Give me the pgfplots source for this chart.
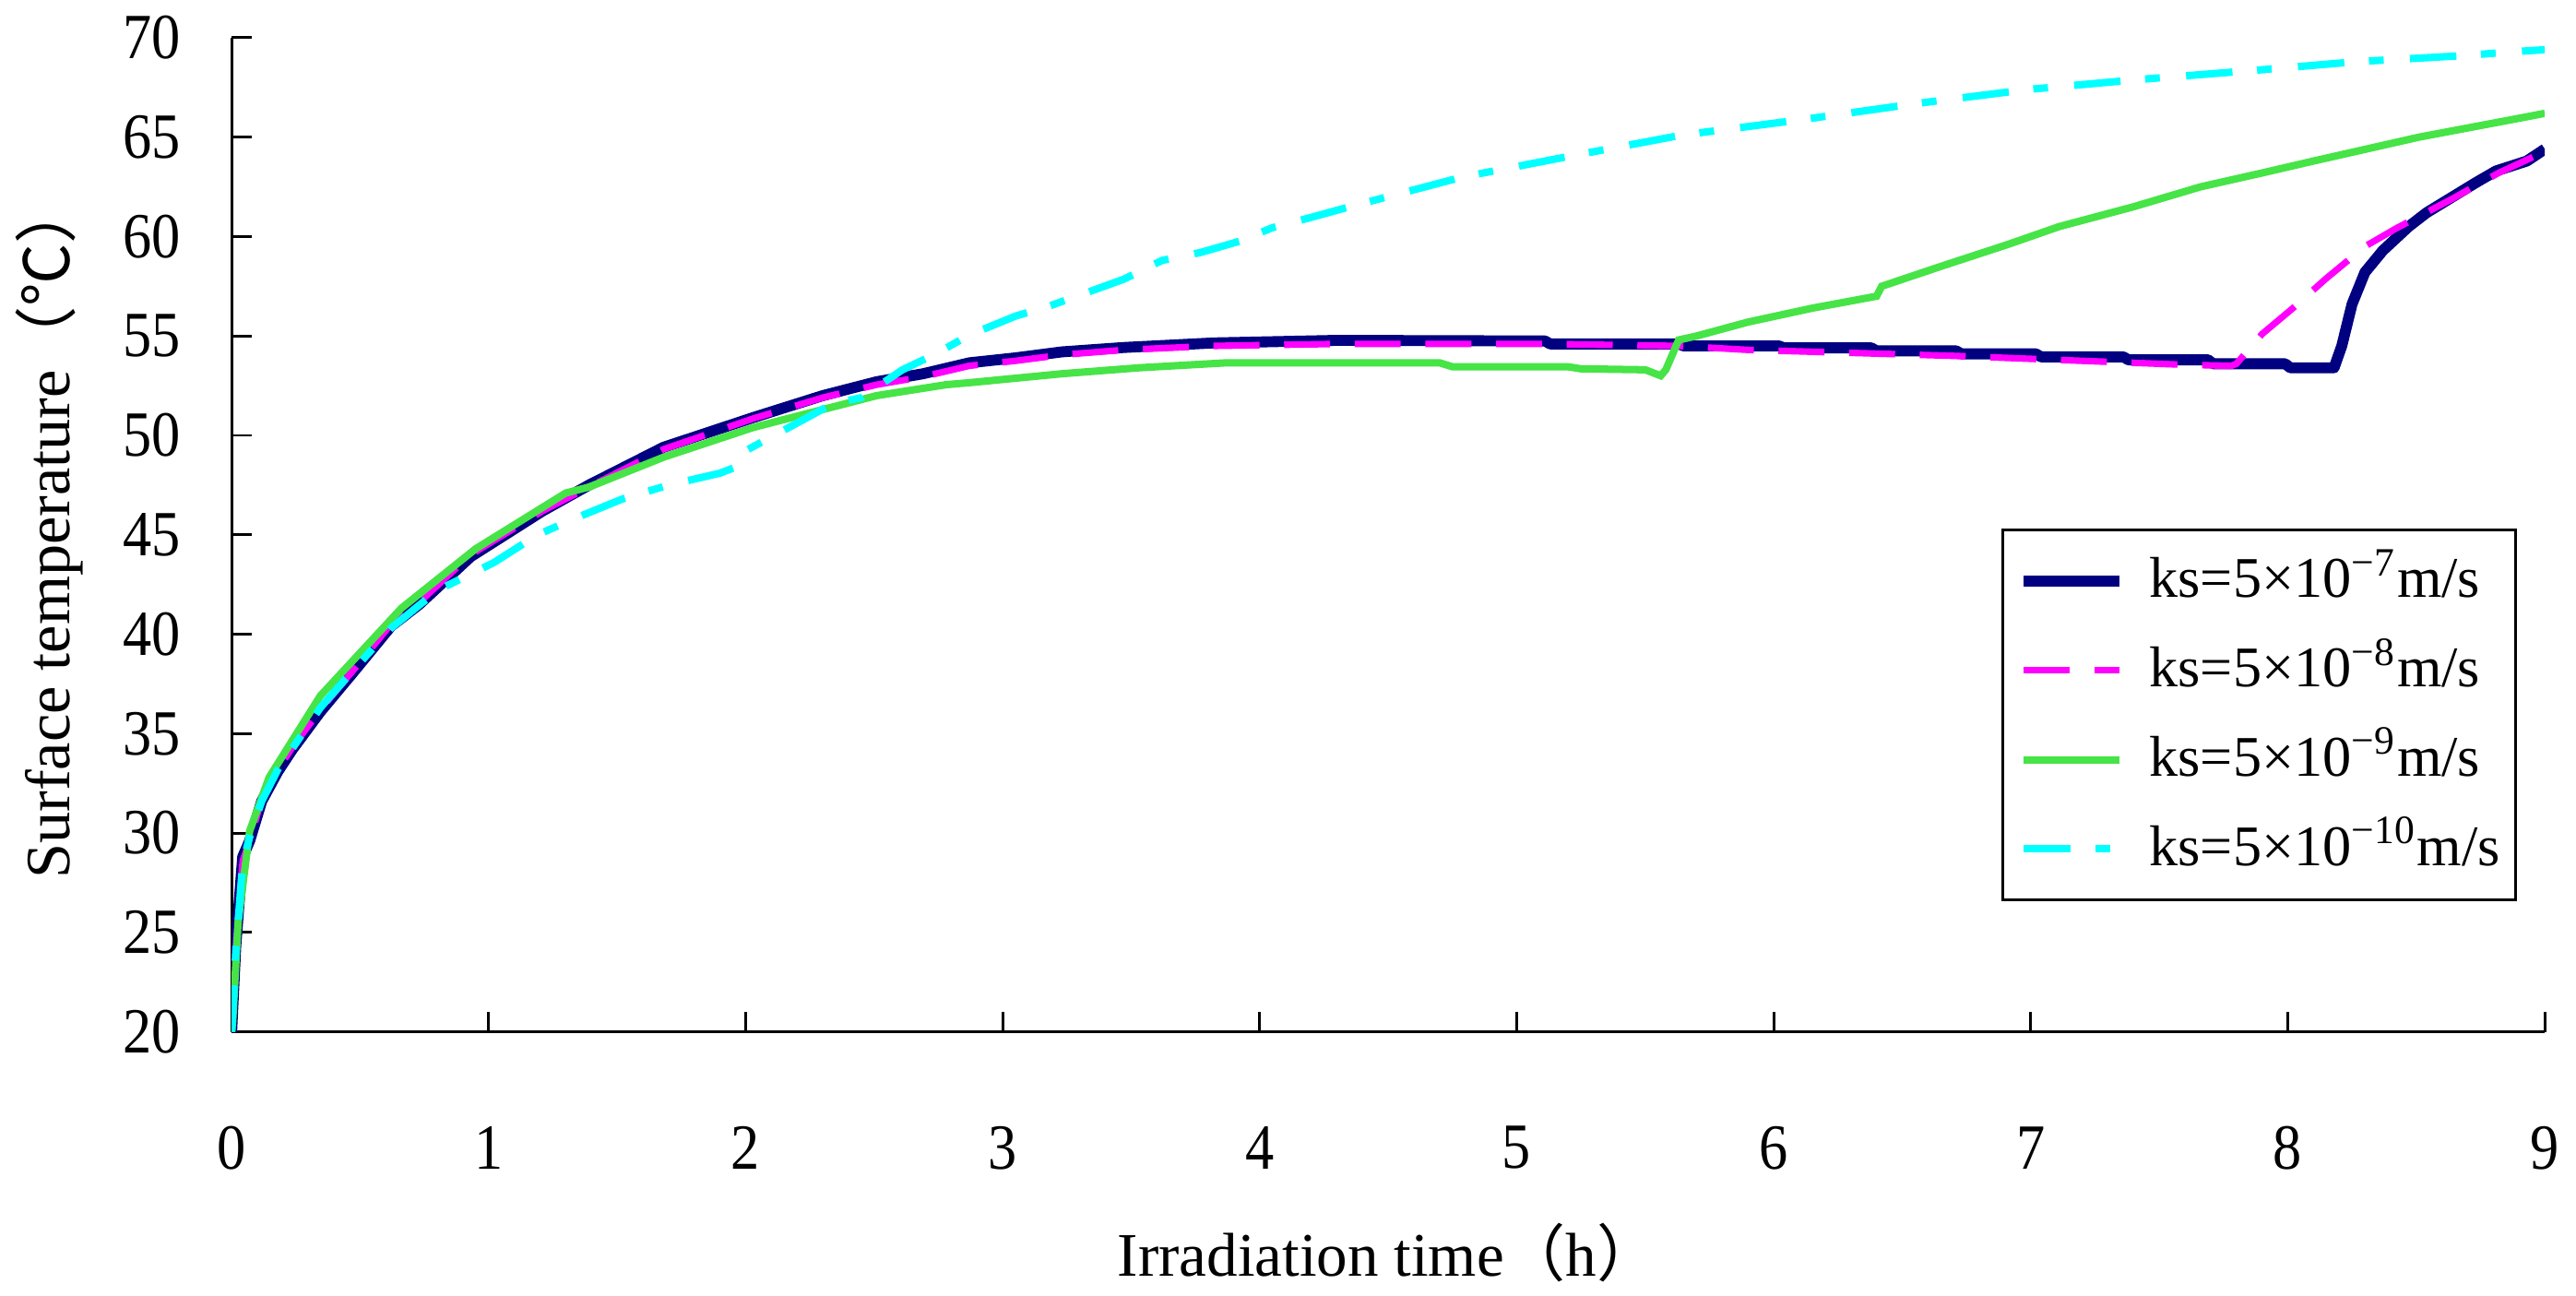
\documentclass[border=0pt]{standalone}
\usepackage{fontspec}
\setmainfont{Liberation Serif}
\newfontfamily\cjk{Noto Sans CJK SC}
\usepackage{pgfplots}
\pgfplotsset{compat=1.18}

\definecolor{ksA}{RGB}{0,0,128}
\definecolor{ksB}{RGB}{255,0,255}
\definecolor{ksC}{RGB}{70,228,70}
\definecolor{ksD}{RGB}{0,255,255}

\begin{document}
\begin{tikzpicture}
\begin{axis}[
  name=ax,
  scale only axis,
  width=422.4pt, height=181.5pt,
  xmin=0, xmax=9, ymin=20, ymax=70,
  xtick={0,1,...,9}, ytick={20,25,...,70},
  axis x line*=bottom, axis y line*=left,
  axis line style={black, line width=0.5pt},
  tick align=inside,
  major tick length=3.7pt,
  tick style={black, line width=0.5pt},
  /pgf/number format/assume math mode=true,
  tick label style={font=\fontsize{10.5}{12}\selectfont, yscale=1.12},
  xticklabel style={anchor=center, yshift=-18.9pt},
  yticklabel style={anchor=east, xshift=-5.8pt},
  xlabel={Irradiation time{\cjk （}h{\cjk ）}},
  ylabel={Surface temperature{\cjk （℃）}},
  xlabel style={font=\fontsize{11.3}{13}\selectfont, at={(axis description cs:0.5,-0.2226)}, anchor=center, xshift=0pt},
  ylabel style={font=\fontsize{11.5}{13}\selectfont, at={(axis description cs:-0.0788,0.505)}, anchor=center},
  legend style={at={(axis description cs:0.988,0.506)}, anchor=north east,
    draw=black, line width=0.5pt, font=\fontsize{10.5}{12}\selectfont,
    inner xsep=2.8pt, inner ysep=4.3pt, row sep=6.3pt, column sep=4.5pt,
    nodes={inner sep=0pt, text height=8pt, text depth=2pt}},
  legend cell align=left,
  legend image code/.code={\draw[#1] (0pt,0pt) -- (17.4pt,0pt);},
]

% ks = 5e-7
\addplot[ksA, line width=2pt, line join=round] table {
0     20
0.016 24.3
0.043 28.8
0.07  29.6
0.117 31.6
0.18  33.1
0.236 34.2
0.345 36.1
0.474 38.1
0.62  40.4
0.73  41.5
0.93  43.9
1.21  46.2
1.39  47.5
1.68  49.4
2.03  50.9
2.30  52.0
2.51  52.7
2.69  53.1
2.87  53.65
3.05  53.9
3.23  54.2
3.47  54.42
3.82  54.65
4.30  54.78
5.11  54.75
5.13  54.6
5.63  54.6
5.65  54.5
6.02  54.5
6.04  54.4
6.38  54.4
6.40  54.25
6.71  54.25
6.73  54.1
7.02  54.1
7.04  53.95
7.36  53.95
7.38  53.8
7.69  53.8
7.71  53.6
7.99  53.6
8.01  53.4
8.18  53.4
8.21  54.5
8.25  56.6
8.30  58.2
8.37  59.3
8.47  60.5
8.54  61.2
8.73  62.7
8.81  63.3
8.93  63.8
9.0   64.4
};
\addlegendentry{ks=5×10\textsuperscript{−7}m/s}

% ks = 5e-8
\addplot[ksB, line width=1.2pt, dash pattern=on 8.4pt off 4.5pt] table {
0     20
0.016 24.2
0.043 28.6
0.07  29.6
0.117 31.7
0.18  33.2
0.236 34.3
0.345 36.2
0.474 38.2
0.62  40.5
0.73  41.6
0.93  44.0
1.21  46.2
1.39  47.4
1.68  49.3
2.03  50.85
2.30  51.9
2.51  52.55
2.69  52.95
2.87  53.5
3.05  53.75
3.23  54.05
3.47  54.3
3.82  54.5
4.30  54.6
5.11  54.6
5.63  54.5
5.90  54.3
6.30  54.15
6.70  54.0
7.00  53.85
7.30  53.7
7.60  53.55
7.78  53.5
7.80  53.6
7.90  55.1
8.02  56.4
8.15  57.9
8.30  59.5
8.42  60.4
8.64  61.9
8.82  63.2
8.97  64.1
9.0   64.2
};
\addlegendentry{ks=5×10\textsuperscript{−8}m/s}

% ks = 5e-9
\addplot[ksC, line width=1.35pt] table {
0     20
0.004 20.5
0.025 25.5
0.07  30.1
0.146 32.8
0.345 36.9
0.66  41.3
0.95  44.3
1.30  47.1
1.39  47.4
1.68  48.9
2.03  50.4
2.30  51.3
2.51  52.0
2.78  52.55
2.87  52.65
3.23  53.1
3.53  53.4
3.87  53.65
4.30  53.65
4.70  53.65
4.75  53.45
5.20  53.45
5.25  53.35
5.50  53.3
5.56  53.0
5.58  53.3
5.63  54.8
5.70  55.0
5.90  55.7
6.15  56.4
6.40  57.0
6.42  57.5
6.65  58.5
6.91  59.6
7.11  60.5
7.40  61.5
7.66  62.5
7.90  63.2
8.10  63.8
8.51  65.0
8.92  66.0
9.0   66.2
};
\addlegendentry{ks=5×10\textsuperscript{−9}m/s}

% ks = 5e-10
\addplot[ksD, line width=1.35pt, dash pattern=on 8.5pt off 4.5pt on 2.7pt off 4.8pt] table {
0     20
0.016 24.0
0.043 28.5
0.07  29.8
0.117 31.6
0.18  33.2
0.345 36.3
0.474 38.2
0.62  40.3
0.80  42.2
1.02  43.6
1.19  45.0
1.35  45.9
1.52  46.8
1.70  47.5
1.90  48.1
1.96  48.4
2.01  49.3
2.19  50.55
2.34  51.6
2.45  51.9
2.61  53.3
2.74  54.1
2.87  55.05
3.05  56.0
3.18  56.5
3.32  57.15
3.47  57.85
3.62  58.8
3.77  59.2
3.92  59.76
4.05  60.45
4.21  61.0
4.35  61.5
4.79  63.0
5.23  64.1
5.64  65.1
6.12  65.9
6.56  66.7
6.99  67.4
7.42  67.9
7.86  68.35
8.27  68.8
8.68  69.1
8.88  69.3
9.0   69.4
};
\addlegendentry{ks=5×10\textsuperscript{−10}m/s\hspace{3.8pt}}

\end{axis}
\pgfresetboundingbox
\useasboundingbox ([xshift=-42.3pt,yshift=-48.2pt]ax.south west) rectangle ([xshift=5.7pt,yshift=6.9pt]ax.north east);
\end{tikzpicture}
\end{document}
